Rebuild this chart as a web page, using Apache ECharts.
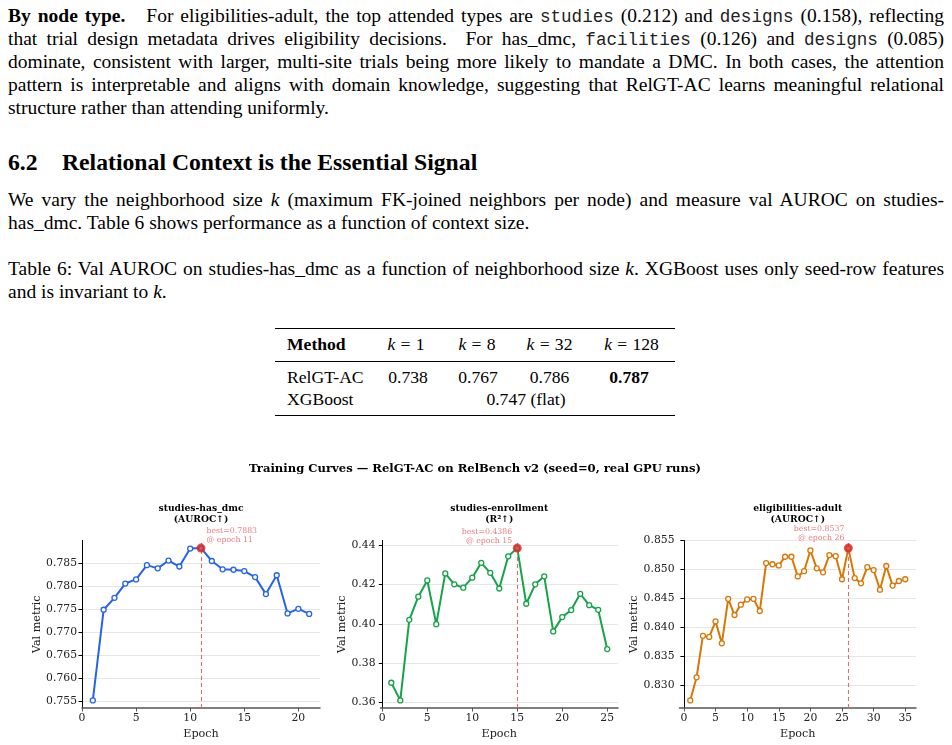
<!DOCTYPE html>
<html>
<head>
<meta charset="UTF-8">
<title>Relational context</title>
<script src="https://cdn.jsdelivr.net/npm/echarts@6/dist/echarts.min.js"></script>
<style>
  html, body { margin:0; padding:0; background:#fff; }
  body { width:952px; height:745px; position:relative; overflow:hidden;
         font-family:"Liberation Serif","Times New Roman",serif; color:#000; }
  .ln { position:absolute; left:8px; width:936px; font-size:19.5px; line-height:22.9px;
        white-space:nowrap; }
  .just { text-align:justify; text-align-last:justify; }
  tt { font-family:"Liberation Mono","Courier New",monospace; font-size:17.6px; font-weight:300; color:#222; }
  .h { position:absolute; font-size:23.7px; line-height:28px; font-weight:bold; white-space:nowrap; }
  .rule { position:absolute; left:275px; width:400px; background:#000; }
  .tc { position:absolute; font-size:17.6px; line-height:21px; white-space:nowrap; }
  .ctr { transform:translateX(-50%); }
  .eq { margin:0 0.3em; }
  #chart { position:absolute; left:0; top:450px; width:952px; height:295px; }
</style>
</head>
<body>

<div class="ln just" style="top:5px"><b>By node type.</b><span style="display:inline-block;width:14px"></span> For eligibilities-adult, the top attended types are <tt>studies</tt> (0.212) and <tt>designs</tt> (0.158), reflecting</div>
<div class="ln just" style="top:28px">that trial design metadata drives eligibility decisions.&nbsp; For has_dmc, <tt>facilities</tt> (0.126) and <tt>designs</tt> (0.085)</div>
<div class="ln just" style="top:51px">dominate, consistent with larger, multi-site trials being more likely to mandate a DMC. In both cases, the attention</div>
<div class="ln just" style="top:74px">pattern is interpretable and aligns with domain knowledge, suggesting that RelGT-AC learns meaningful relational</div>
<div class="ln" style="top:97px">structure rather than attending uniformly.</div>

<div class="h" style="top:148px;left:8px">6.2</div>
<div class="h" style="top:148px;left:62px">Relational Context is the Essential Signal</div>

<div class="ln just" style="top:189px">We vary the neighborhood size <i>k</i> (maximum FK-joined neighbors per node) and measure val AUROC on studies-</div>
<div class="ln" style="top:212px">has_dmc. Table 6 shows performance as a function of context size.</div>

<div class="ln just" style="top:258px">Table 6: Val AUROC on studies-has_dmc as a function of neighborhood size <i>k</i>. XGBoost uses only seed-row features</div>
<div class="ln" style="top:281px">and is invariant to <i>k</i>.</div>

<div class="rule" style="top:327.5px;height:1.6px"></div>
<div class="rule" style="top:360.5px;height:0.9px"></div>
<div class="rule" style="top:414.5px;height:1.6px"></div>
<div id="tbl"></div>

<div id="chart"></div>

<script type="text/javascript">
    // 表格数据
    var tableHead = ['Method', 'k = 1', 'k = 8', 'k = 32', 'k = 128'];
    var relgtRow = ['RelGT-AC', '0.738', '0.767', '0.786', '0.787'];
    var xgbRow = ['XGBoost', '0.747 (flat)'];

    // 训练曲线数据
    var dmcEpochs = [1,2,3,4,5,6,7,8,9,10,11,12,13,14,15,16,17,18,19,20,21];
    var dmcAuroc = [0.7552,0.7749,0.7775,0.7806,0.7815,0.7846,0.7839,0.7856,0.7843,0.7882,0.7883,
                    0.7855,0.7837,0.7836,0.7833,0.7820,0.7783,0.7824,0.7741,0.7751,0.7740];
    var enrollEpochs = [1,2,3,4,5,6,7,8,9,10,11,12,13,14,15,16,17,18,19,20,21,22,23,24,25];
    var enrollR2 = [0.3699,0.3609,0.4020,0.4138,0.4221,0.3998,0.4257,0.4201,0.4184,0.4235,0.4311,0.4260,
                    0.4180,0.4344,0.4386,0.4102,0.4201,0.4242,0.3961,0.4034,0.4070,0.4153,0.4095,0.4071,0.3871];
    var adultEpochs = [1,2,3,4,5,6,7,8,9,10,11,12,13,14,15,16,17,18,19,20,21,22,23,24,25,26,27,28,29,30,31,32,33,34,35];
    var adultAuroc = [0.8273,0.8313,0.8385,0.8383,0.8410,0.8372,0.8449,0.8421,0.8439,0.8448,0.8449,0.8428,
                      0.8511,0.8509,0.8507,0.8522,0.8522,0.8488,0.8497,0.8533,0.8502,0.8495,0.8525,0.8523,
                      0.8483,0.8537,0.8485,0.8476,0.8504,0.8499,0.8465,0.8506,0.8472,0.8480,0.8483];

    var panelTitles = ['studies-has_dmc\n(AUROC\u2191)', 'studies-enrollment\n(R\u00b2\u2191)', 'eligibilities-adult\n(AUROC\u2191)'];
    var bestEpochs = [11, 15, 26];
    var bestValues = [0.7883, 0.4386, 0.8537];
    var xTicks = [[0,5,10,15,20], [0,5,10,15,20,25], [0,5,10,15,20,25,30,35]];
    var yTicks = [[0.755,0.760,0.765,0.770,0.775,0.780,0.785],
                  [0.36,0.38,0.40,0.42,0.44],
                  [0.830,0.835,0.840,0.845,0.850,0.855]];
    var yDecimals = [3, 2, 3];
    var colors = ['#2563eb', '#16a34a', '#d97706'];
    var FONT = '"DejaVu Serif", serif';

    // 画表格
    function cell(txt, left, top, center, bold){
        var d = document.createElement('div');
        d.className = 'tc' + (center ? ' ctr' : '');
        d.style.left = left + 'px';
        d.style.top = top + 'px';
        if(bold) d.style.fontWeight = 'bold';
        d.innerHTML = txt.replace(/^k = /, '<i>k</i><span class="eq">=</span>');
        document.getElementById('tbl').appendChild(d);
    }
    var headX = [287, 406, 477, 549.5, 631.5];
    var rowX = [287, 408, 478, 549.5, 629];
    for(var i = 0; i < tableHead.length; i++){
        cell(tableHead[i], headX[i], 333.5, i > 0, i == 0);
        cell(relgtRow[i], rowX[i], 366.5, i > 0, i == 4);
    }
    cell(xgbRow[0], 287, 388.5, false, false);
    cell(xgbRow[1], 526, 388.5, true, false);

    // 图
    var myChart = echarts.init(document.getElementById('chart'));
    var epochsAll = [dmcEpochs, enrollEpochs, adultEpochs];
    var valuesAll = [dmcAuroc, enrollR2, adultAuroc];
    var gridLeft = [82, 380.5, 679.5];
    var gridW = [238, 237.5, 236.5];
    var labelPos = [[10, 0.5], [-0.5, 2], [0.5, -1.5]];
    var labelAlign = ['left', 'right', 'right'];

    var grids = [], xAxes = [], yAxes = [], series = [], titles = [];
    titles.push({
        text: 'Training Curves \u2014 RelGT-AC on RelBench v2 (seed=0, real GPU runs)',
        left: 475, top: 12.5, padding: 0, textAlign: 'center',
        textStyle: {fontFamily: FONT, fontSize: 11.6, fontWeight: 'bold', color: '#000'}
    });
    for(var p = 0; p < 3; p++){
        var vals = valuesAll[p];
        var eps = epochsAll[p];
        var vmin = Math.min.apply(null, vals), vmax = Math.max.apply(null, vals);
        var pad = (vmax - vmin) * 0.05;
        var xpad = (eps[eps.length-1] - eps[0]) * 0.05;
        grids.push({left: gridLeft[p], top: 90.5, width: gridW[p], height: 167.5, outerBoundsMode: 'none'});
        titles.push({
            text: panelTitles[p], left: gridLeft[p] + gridW[p]/2, top: 53.5, padding: 0, textAlign: 'center',
            textStyle: {fontFamily: FONT, fontSize: 9.2, fontWeight: 'bold', color: '#000', lineHeight: 11}
        });
        xAxes.push({
            type: 'value', gridIndex: p, min: eps[0] - xpad, max: eps[eps.length-1] + xpad,
            name: 'Epoch', nameLocation: 'middle', nameGap: 18,
            nameTextStyle: {fontFamily: FONT, fontSize: 11.2, color: '#222'},
            axisLine: {onZero: false, lineStyle: {color: '#555', width: 1.5}},
            axisTick: {show: true, length: 3.5, customValues: xTicks[p], lineStyle: {color: '#555'}},
            axisLabel: {customValues: xTicks[p], margin: 4.5, fontFamily: FONT, fontSize: 10.8, color: '#222'},
            splitLine: {show: false}
        });
        yAxes.push({
            type: 'value', gridIndex: p, min: vmin - pad, max: vmax + pad,
            name: 'Val metric', nameLocation: 'middle', nameGap: [39, 33, 40][p],
            nameTextStyle: {fontFamily: FONT, fontSize: 11.2, color: '#222'},
            axisLine: {show: true, lineStyle: {color: '#000', width: 1}},
            axisTick: {show: true, length: 3.5, customValues: yTicks[p], lineStyle: {color: '#000'}},
            axisLabel: {customValues: yTicks[p], margin: 5, fontFamily: FONT, fontSize: 10.8, color: '#222',
                        formatter: (function(d){ return function(v){ return v.toFixed(d); }; })(yDecimals[p])},
            splitLine: {show: true, lineStyle: {color: '#e6e6e6', width: 1}}
        });
        var pts = [];
        for(var i = 0; i < vals.length; i++) pts.push([eps[i], vals[i]]);
        series.push({
            type: 'line', xAxisIndex: p, yAxisIndex: p, data: pts,
            symbol: 'circle', symbolSize: 5, z: 3,
            lineStyle: {color: colors[p], width: 2},
            itemStyle: {color: '#fff', borderColor: colors[p], borderWidth: 1.3},
            markLine: {
                silent: true, symbol: 'none', label: {show: false},
                lineStyle: {color: '#e46a6a', type: [4, 3], width: 1.1},
                data: [{xAxis: bestEpochs[p]}]
            }
        });
        series.push({
            type: 'scatter', xAxisIndex: p, yAxisIndex: p, z: 5,
            data: [[bestEpochs[p], bestValues[p]]],
            symbolSize: 9, itemStyle: {color: '#dc2626'},
            label: {
                show: true, position: labelPos[p], align: labelAlign[p], verticalAlign: 'bottom',
                formatter: 'best=' + bestValues[p].toFixed(4) + '\n@ epoch ' + bestEpochs[p],
                fontFamily: FONT, fontSize: 7.8, lineHeight: 9, color: '#e06060'
            }
        });
    }

    var option = {
        animation: false,
        title: titles,
        grid: grids,
        xAxis: xAxes,
        yAxis: yAxes,
        series: series
    };
    myChart.setOption(option);
</script>
</body>
</html>
